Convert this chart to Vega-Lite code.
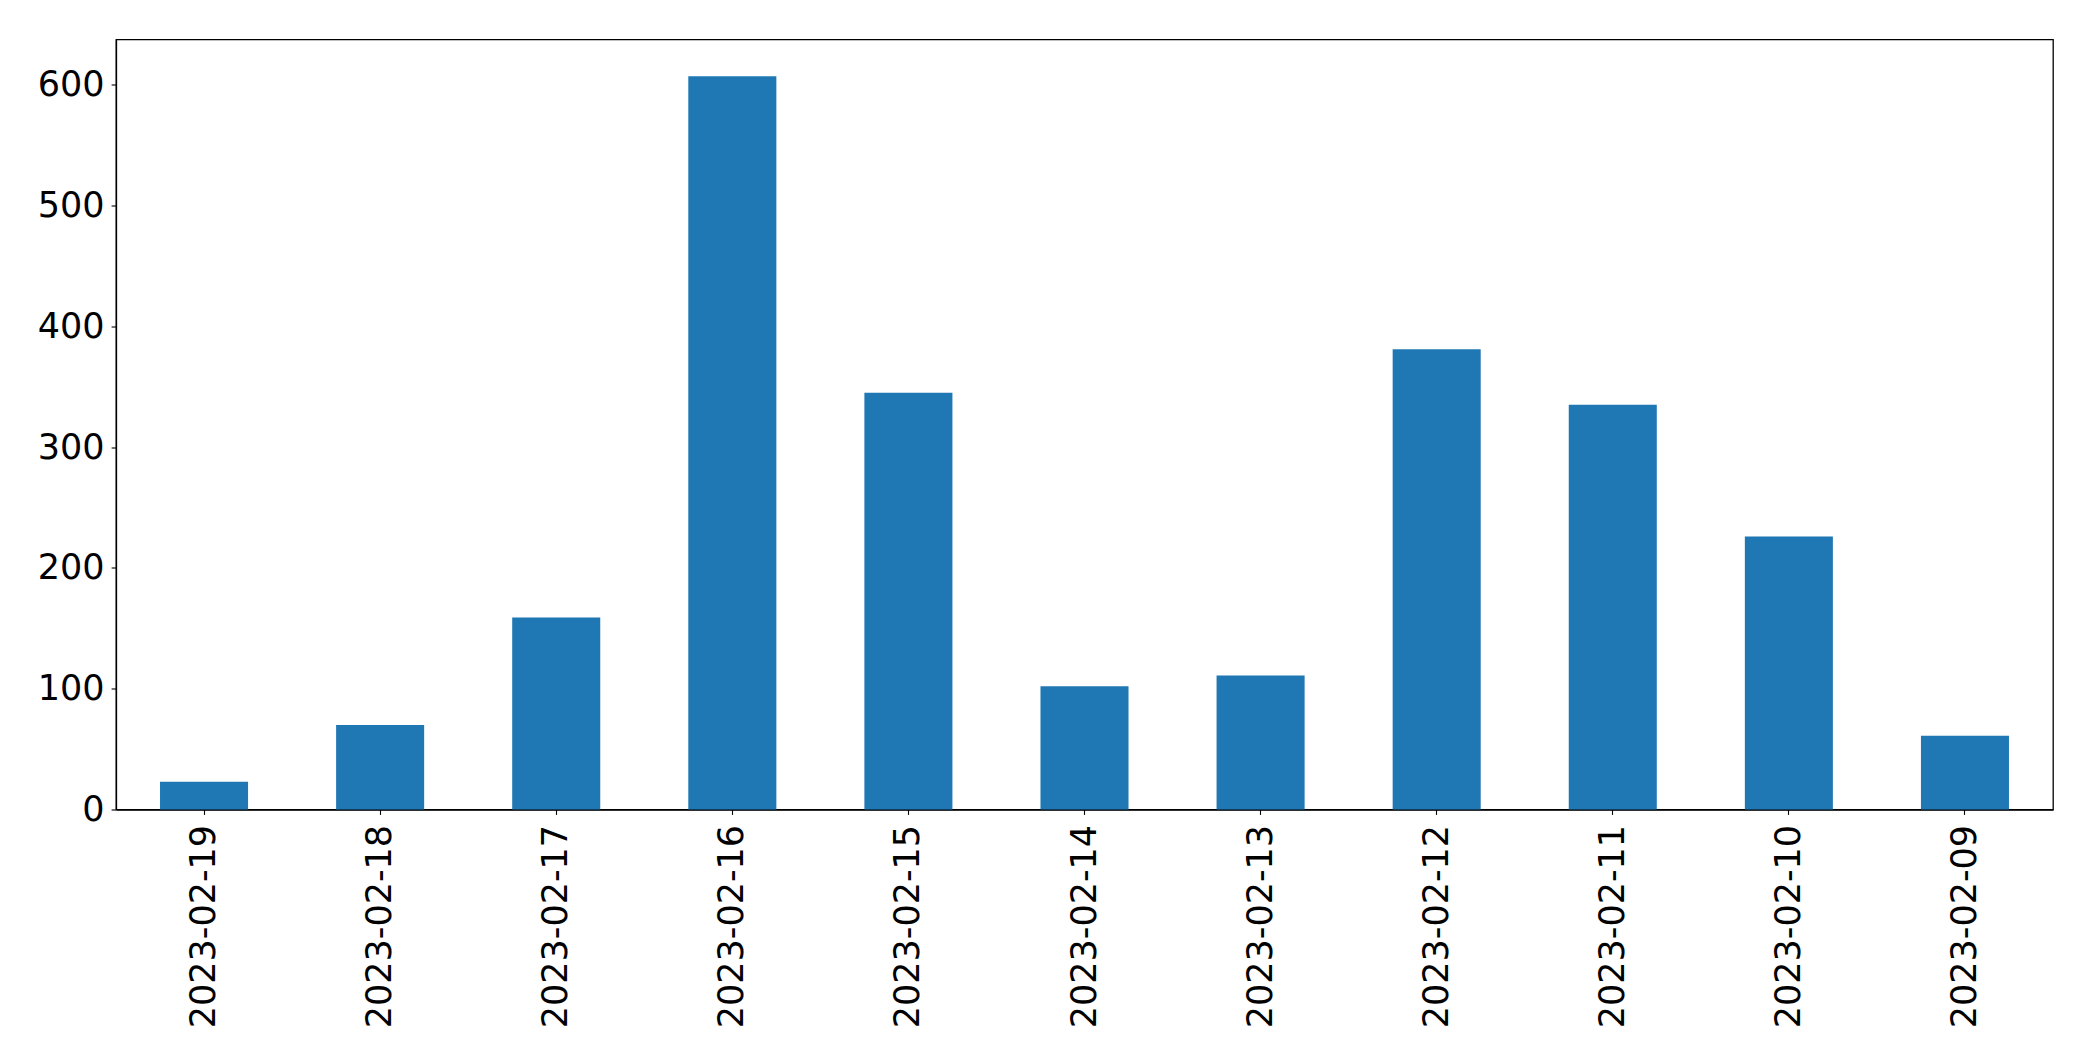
{
  "$schema": "https://vega.github.io/schema/vega-lite/v6.json",
  "width": 1937,
  "height": 770,
  "autosize": {"type": "none"},
  "padding": {"left": 116, "top": 39.5, "right": 40, "bottom": 251},
  "background": "white",
  "config": {
    "view": {"stroke": "black", "strokeWidth": 1.3},
    "font": "DejaVu Sans"
  },
  "data": {
    "values": [
      {"date": "2023-02-19", "count": 23},
      {"date": "2023-02-18", "count": 70},
      {"date": "2023-02-17", "count": 159},
      {"date": "2023-02-16", "count": 607},
      {"date": "2023-02-15", "count": 345},
      {"date": "2023-02-14", "count": 102},
      {"date": "2023-02-13", "count": 111},
      {"date": "2023-02-12", "count": 381},
      {"date": "2023-02-11", "count": 335},
      {"date": "2023-02-10", "count": 226},
      {"date": "2023-02-09", "count": 61}
    ]
  },
  "mark": {"type": "bar", "color": "#1f77b4"},
  "encoding": {
    "x": {
      "field": "date",
      "type": "nominal",
      "sort": null,
      "scale": {"paddingInner": 0.5, "paddingOuter": 0.25},
      "axis": {
        "title": null,
        "labelAngle": -90,
        "labelFontSize": 35,
        "labelLimit": 0,
        "labelColor": "black",
        "labelPadding": 10,
        "tickColor": "black",
        "tickSize": 4.9,
        "tickWidth": 1.1,
        "domainColor": "black",
        "domainWidth": 1.3,
        "grid": false
      }
    },
    "y": {
      "field": "count",
      "type": "quantitative",
      "scale": {"domain": [0, 637.35], "nice": false, "zero": true},
      "axis": {
        "title": null,
        "values": [0, 100, 200, 300, 400, 500, 600],
        "labelFontSize": 35,
        "labelColor": "black",
        "labelPadding": 7,
        "tickColor": "black",
        "tickSize": 4.9,
        "tickWidth": 1.1,
        "domainColor": "black",
        "domainWidth": 1.3,
        "grid": false
      }
    }
  }
}
